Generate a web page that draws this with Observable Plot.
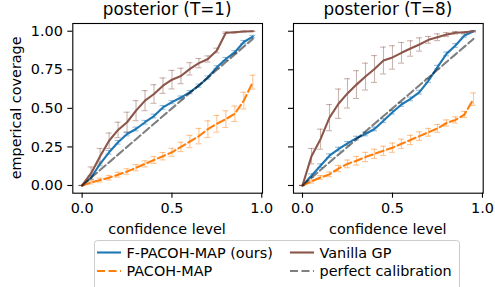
<!DOCTYPE html>
<html><head><meta charset="utf-8">
<script src="https://cdn.jsdelivr.net/npm/d3@7"></script>
<script src="https://cdn.jsdelivr.net/npm/@observablehq/plot@0.6"></script>
<style>
body{margin:0;background:#fff;}
#wrap{position:relative;width:495px;height:287px;overflow:hidden;font-family:"DejaVu Sans",sans-serif;background:#fff;}
#wrap svg{position:absolute;overflow:visible;}
</style></head><body><div id="wrap"></div>
<script>
const confidence = [0, 0.05, 0.1, 0.15, 0.2, 0.25, 0.3, 0.35, 0.4, 0.45, 0.5, 0.55, 0.6, 0.65, 0.7, 0.75, 0.8, 0.85, 0.9, 0.95];

// posterior (T=1)
const fpacoh1    = [0, 0.052, 0.14, 0.215, 0.28, 0.334, 0.366, 0.41, 0.45, 0.506, 0.54, 0.57, 0.605, 0.647, 0.70, 0.766, 0.82, 0.864, 0.93, 0.965];
const fpacoh1Err = [0, 0.012, 0.012, 0.012, 0.012, 0.012, 0.012, 0.012, 0.012, 0.012, 0.01, 0.01, 0.01, 0.01, 0.01, 0.01, 0.01, 0.01, 0.01, 0.008];
const pacoh1     = [0, 0.02, 0.035, 0.05, 0.07, 0.09, 0.115, 0.14, 0.165, 0.19, 0.215, 0.25, 0.285, 0.32, 0.365, 0.40, 0.43, 0.465, 0.55, 0.67];
const pacoh1Err  = [0, 0.01, 0.012, 0.014, 0.016, 0.018, 0.02, 0.02, 0.022, 0.024, 0.026, 0.03, 0.04, 0.05, 0.054, 0.054, 0.054, 0.05, 0.054, 0.045];
const vanilla1   = [0, 0.08, 0.19, 0.29, 0.36, 0.41, 0.485, 0.55, 0.593, 0.647, 0.686, 0.71, 0.756, 0.793, 0.82, 0.875, 0.99, 0.993, 0.998, 1.0];
const vanilla1Err= [0, 0.04, 0.05, 0.05, 0.05, 0.065, 0.065, 0.065, 0.06, 0.05, 0.06, 0.05, 0.04, 0.03, 0.02, 0.015, 0.005, 0.005, 0.003, 0.002];

// posterior (T=8)
const fpacoh8    = [0, 0.063, 0.128, 0.193, 0.236, 0.273, 0.307, 0.334, 0.366, 0.42, 0.475, 0.525, 0.561, 0.605, 0.68, 0.767, 0.853, 0.907, 0.972, 1.0];
const fpacoh8Err = [0, 0.012, 0.012, 0.012, 0.012, 0.012, 0.012, 0.012, 0.012, 0.012, 0.012, 0.012, 0.012, 0.012, 0.012, 0.012, 0.012, 0.012, 0.01, 0.005];
const pacoh8     = [0, 0.026, 0.052, 0.072, 0.11, 0.14, 0.16, 0.185, 0.205, 0.225, 0.245, 0.27, 0.295, 0.32, 0.345, 0.37, 0.405, 0.425, 0.46, 0.56];
const pacoh8Err  = [0, 0.01, 0.012, 0.015, 0.02, 0.025, 0.028, 0.03, 0.03, 0.03, 0.03, 0.03, 0.03, 0.028, 0.025, 0.025, 0.02, 0.02, 0.02, 0.04];
const vanilla8   = [0, 0.19, 0.30, 0.44, 0.53, 0.597, 0.654, 0.706, 0.755, 0.81, 0.83, 0.86, 0.888, 0.914, 0.944, 0.961, 0.978, 0.99, 0.993, 1.0];
const vanilla8Err= [0, 0.05, 0.065, 0.085, 0.095, 0.095, 0.09, 0.087, 0.087, 0.087, 0.076, 0.067, 0.05, 0.043, 0.022, 0.022, 0.013, 0.008, 0.005, 0.003];

const xTicks = [0, 0.5, 1.0];
const yTicks = [0, 0.25, 0.5, 0.75, 1.0];
const titles = ["posterior (T=1)", "posterior (T=8)"];
const xLabel = "confidence level";
const yLabel = "emperical coverage";
const seriesNames = ["F-PACOH-MAP (ours)", "PACOH-MAP", "Vanilla GP", "perfect calibration"];

const C = {blue: "#1f77b4", orange: "#ff7f0e", brown: "#8c564b"};

const rows = (ys, errs) => confidence.map((x, i) => ({x, y: ys[i], lo: ys[i] - errs[i], hi: ys[i] + errs[i]}));

function errMarks(data, color, capHalf) {
  return [
    Plot.ruleX(data, {x: "x", y1: "lo", y2: "hi", stroke: color, strokeOpacity: 0.45, strokeWidth: 1.1}),
    Plot.ruleY(data, {y: "lo", x1: d => d.x - capHalf, x2: d => d.x + capHalf, stroke: color, strokeOpacity: 0.45, strokeWidth: 1.1}),
    Plot.ruleY(data, {y: "hi", x1: d => d.x - capHalf, x2: d => d.x + capHalf, stroke: color, strokeOpacity: 0.45, strokeWidth: 1.1})
  ];
}

function panel(cfg) {
  const fp = rows(cfg.fp, cfg.fpErr), pa = rows(cfg.pa, cfg.paErr), va = rows(cfg.va, cfg.vaErr);
  const diag = confidence.map(x => ({x, y: x}));
  const capHalf = 3 / cfg.pxPerUnit;
  const el = Plot.plot({
    width: cfg.width, height: 220,
    marginLeft: cfg.ml, marginRight: cfg.mr, marginTop: 23, marginBottom: 27.3,
    x: {domain: cfg.xdom},
    y: {domain: [-0.05, 1.05]},
    style: {fontFamily: "DejaVu Sans", fontSize: "14.4px", background: "transparent", color: "#000", overflow: "visible"},
    marks: [
      ...errMarks(fp, C.blue, capHalf),
      Plot.line(fp, {x: "x", y: "y", stroke: C.blue, strokeWidth: 2.1}),
      ...errMarks(pa, C.orange, capHalf),
      Plot.line(pa, {x: "x", y: "y", stroke: C.orange, strokeWidth: 2.1, strokeDasharray: "8,3.5"}),
      ...errMarks(va, C.brown, capHalf),
      Plot.line(va, {x: "x", y: "y", stroke: C.brown, strokeWidth: 2.1}),
      Plot.line(diag, {x: "x", y: "y", stroke: "#000", strokeOpacity: 0.5, strokeWidth: 2.1, strokeDasharray: "8,3.5"}),
      Plot.frame({stroke: "#000", strokeWidth: 1.1}),
      Plot.axisX({ticks: xTicks, tickFormat: d3.format(".1f"), tickSize: 5, tickPadding: 5, fontSize: 14.4, strokeWidth: 1.1, label: null}),
      Plot.axisY({ticks: yTicks, tickFormat: cfg.showY ? d3.format(".2f") : () => "", tickSize: 5, tickPadding: 5, fontSize: 14.4, strokeWidth: 1.1, label: null})
    ]
  });
  el.style.left = cfg.left + "px";
  el.style.top = "0px";
  return el;
}

const wrap = document.getElementById("wrap");
wrap.appendChild(panel({fp: fpacoh1, fpErr: fpacoh1Err, pa: pacoh1, paErr: pacoh1Err, va: vanilla1, vaErr: vanilla1Err,
  left: 0, width: 270, ml: 72.3, mr: 8, xdom: [-0.052, 1.004], pxPerUnit: 179.6, showY: true}));
wrap.appendChild(panel({fp: fpacoh8, fpErr: fpacoh8Err, pa: pacoh8, paErr: pacoh8Err, va: vanilla8, vaErr: vanilla8Err,
  left: 220, width: 270, ml: 73, mr: 7.3, xdom: [-0.05, 1.004], pxPerUnit: 180, showY: false}));

// overlay text + legend
const ov = d3.select(wrap).append("svg").attr("width", 495).attr("height", 287)
  .style("left", "0px").style("top", "0px")
  .attr("font-family", "DejaVu Sans").attr("fill", "#000");
const centers = [167.1, 387.85];
titles.forEach((t, i) => ov.append("text").attr("x", centers[i]).attr("y", 15).attr("text-anchor", "middle").attr("font-size", 16.8).text(t));
centers.forEach(c => ov.append("text").attr("x", c).attr("y", 234).attr("text-anchor", "middle").attr("font-size", 14.4).text(xLabel));
ov.append("text").attr("transform", "translate(21,107.85) rotate(-90)").attr("text-anchor", "middle").attr("font-size", 14.4).text(yLabel);

// legend
const lg = ov.append("g");
lg.append("rect").attr("x", 94.5).attr("y", 240.5).attr("width", 365).attr("height", 60).attr("rx", 3)
  .attr("fill", "#fff").attr("fill-opacity", 0.8).attr("stroke", "#cccccc").attr("stroke-width", 1);
const items = [
  {name: seriesNames[0], color: C.blue, dash: null, op: 1, x: 97, y: 252.5},
  {name: seriesNames[1], color: C.orange, dash: "8,3.5", op: 1, x: 97, y: 271},
  {name: seriesNames[2], color: C.brown, dash: null, op: 1, x: 290, y: 252.5},
  {name: seriesNames[3], color: "#000", dash: "8,3.5", op: 0.5, x: 290, y: 271}
];
items.forEach(it => {
  lg.append("line").attr("x1", it.x).attr("x2", it.x + 24).attr("y1", it.y).attr("y2", it.y)
    .attr("stroke", it.color).attr("stroke-opacity", it.op).attr("stroke-width", 2.1).attr("stroke-dasharray", it.dash);
  lg.append("text").attr("x", it.x + 29.5).attr("y", it.y + 5.3).attr("font-size", 14.4).text(it.name);
});
</script>
</body></html>
